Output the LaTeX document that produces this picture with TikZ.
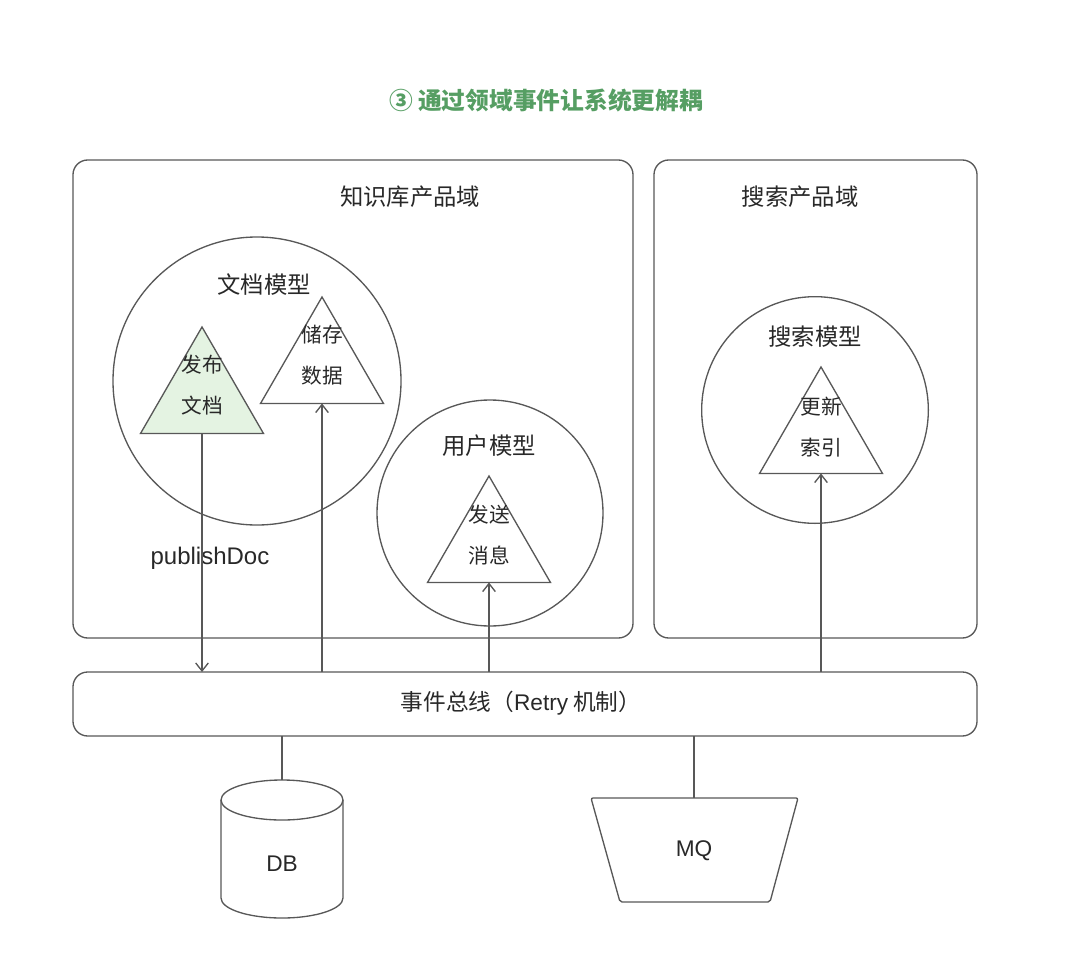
\documentclass[tikz,border=0pt]{standalone}
\usepackage{fontspec}
\setmainfont{Noto Sans CJK SC}
\newfontfamily\lat{Liberation Sans}
\usetikzlibrary{arrows.meta,shapes.geometric}
\definecolor{lc}{RGB}{88,88,88}
\definecolor{tc}{RGB}{40,40,40}
\definecolor{tgreen}{RGB}{86,158,99}
\definecolor{gfill}{RGB}{228,243,226}
\begin{document}
\begin{tikzpicture}[x=0.75pt,y=-0.75pt,
  every node/.style={text=tc},
  box/.style={draw=lc, line width=1pt, rounded corners=11pt, rectangle, inner sep=0pt, outer sep=0pt},
  model/.style={draw=lc, line width=1pt, circle, inner sep=0pt, outer sep=0pt},
  tri/.style={draw=lc, line width=1pt, regular polygon, regular polygon sides=3, minimum size=106.5pt, inner sep=0pt, outer sep=0pt},
  lbl/.style={font=\fontsize{17.5}{21}\selectfont},
  tlbl/.style={font=\fontsize{15.5}{30.75}\selectfont, align=center},
  conn/.style={draw=lc, line width=1pt},
  arr/.style={draw=lc, line width=1pt, -{Straight Barb[length=6pt,width=9.5pt]}}
]
\useasboundingbox (0,0) rectangle (1080,963);

% title
\node[text=tgreen, font=\fontsize{17.8}{21}\selectfont\bfseries] (title) at (546,100) {③ 通过领域事件让系统更解耦};

% domains
\node[box, minimum width=420pt, minimum height=358.5pt] (kb) at (353,399) {};
\node[lbl] (kbl) at (410,197) {知识库产品域};
\node[box, minimum width=242.25pt, minimum height=358.5pt] (sd) at (815.5,399) {};
\node[lbl] (sdl) at (800,197) {搜索产品域};

% models
\node[model, minimum size=216pt] (docm) at (257,381) {};
\node[lbl] (docml) at (264,285) {文档模型};
\node[model, minimum size=169.5pt] (userm) at (490,513) {};
\node[lbl] (userml) at (489,446) {用户模型};
\node[model, minimum size=170pt] (searchm) at (815,410) {};
\node[lbl] (searchml) at (815,337) {搜索模型};

% triangles
\node[tri, fill=gfill] (t1) at (202,398) {};
\node[tlbl] (t1l) at (202,385.5) {发布\\文档};
\node[tri] (t2) at (322,368) {};
\node[tlbl] (t2l) at (322,355) {储存\\数据};
\node[tri] (t3) at (489,547) {};
\node[tlbl] (t3l) at (489,535) {发送\\消息};
\node[tri] (t4) at (821,438) {};
\node[tlbl] (t4l) at (821,427) {更新\\索引};

\node[font=\lat\fontsize{18}{21}\selectfont] (pub) at (210,558) {publishDoc};

% bus
\node[box, minimum width=678pt, minimum height=48pt] (bus) at (525,704) {};
\node[font=\fontsize{17}{21}\selectfont] (busl) at (521,703) {事件总线（{\lat Retry} 机制）};

% arrows
\draw[arr] (t1.south) -- (bus.north -| t1.south);
\draw[arr] (bus.north -| t2.south) -- (t2.south);
\draw[arr] (bus.north -| t3.south) -- (t3.south);
\draw[arr] (bus.north -| t4.south) -- (t4.south);

% DB cylinder
\coordinate (dbtop) at (282,780);
\draw[conn] (221,800) -- (221,898) arc[start angle=180, end angle=360, x radius=45.75pt, y radius=15pt] -- (343,800);
\draw[conn] (282,800) ellipse [x radius=45.75pt, y radius=15pt];
\node[font=\lat\fontsize{17}{21}\selectfont] (db) at (282,864) {DB};
\draw[conn] (bus.south -| dbtop) -- (dbtop);

% MQ trapezoid
\coordinate (mqtop) at (694,798);
\draw[conn, rounded corners=1.5pt] (591,798) -- (798,798) -- (770,902) -- (620,902) -- cycle;
\node[font=\lat\fontsize{17}{21}\selectfont] (mq) at (694,851) {MQ};
\draw[conn] (bus.south -| mqtop) -- (mqtop);
\end{tikzpicture}
\end{document}
